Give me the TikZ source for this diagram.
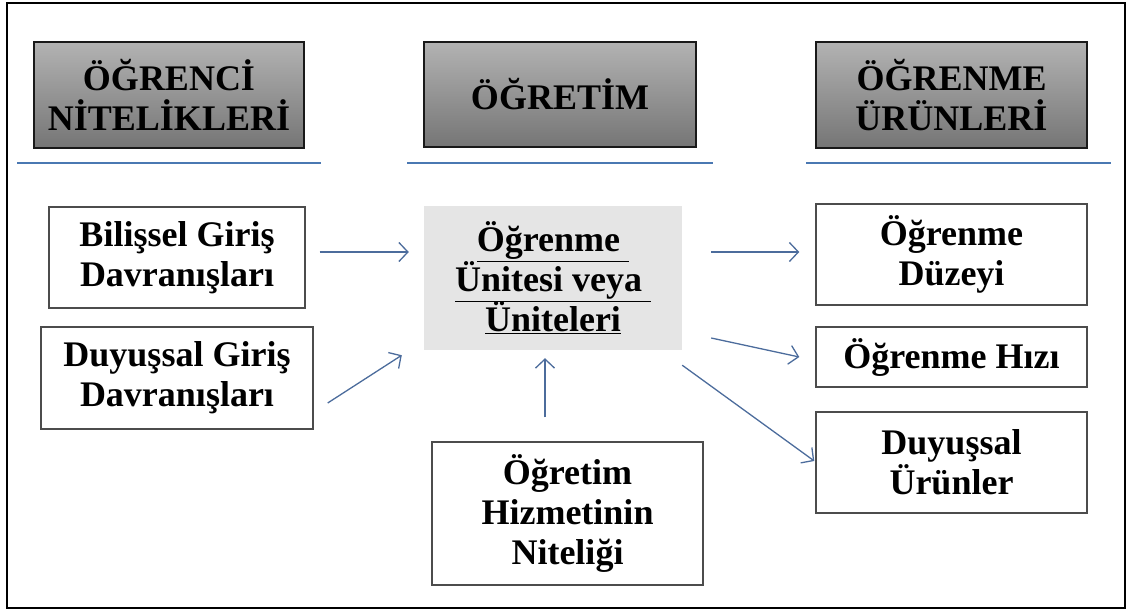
\documentclass[tikz,border=0pt]{standalone}
\usepackage{fontspec}
\setmainfont{Liberation Serif}
\usepackage{tikz}
\usetikzlibrary{arrows.meta}

\definecolor{rulebl}{HTML}{4A78B2}
\definecolor{arrbl}{HTML}{4C6C9C}

\begin{document}
\begin{tikzpicture}[
    x=1pt, y=-1pt,
    font=\bfseries\fontsize{36}{40}\selectfont,
    blk/.style={draw=black!70, line width=1.4pt, inner sep=0pt, align=center},
    head/.style={blk, draw=black!90, top color=black!30, bottom color=black!54},
    unitbox/.style={inner sep=0pt, align=center, fill=black!10},
    arr/.style={->, arrbl, line width=1.3pt, >={Straight Barb[length=9pt,width=19pt]}},
    hline/.style={rulebl, line width=1.6pt},
  ]
    \useasboundingbox (0,0) rectangle (1127,610);
    \draw[line width=2pt] (7,3) rectangle (1125,608);

    % column heads
    \node[head, minimum width=270, minimum height=106] (h1) at (169,95)   {ÖĞRENCİ\\NİTELİKLERİ};
    \node[head, minimum width=272, minimum height=105] (h2) at (560,94.5) {ÖĞRETİM};
    \node[head, minimum width=271, minimum height=106] (h3) at (951.5,95) {ÖĞRENME\\ÜRÜNLERİ};

    \draw[hline] ([shift={(-16,14)}]h1.south west) -- ([shift={(16,14)}]h1.south east);
    \draw[hline] ([shift={(-16,15)}]h2.south west) -- ([shift={(16,15)}]h2.south east);
    \draw[hline] ([shift={(-9,14)}]h3.south west)  -- ([shift={(23,14)}]h3.south east);

    % inputs
    \node[blk, minimum width=256, minimum height=101] (bil) at (177,257.5) {Bilişsel Giriş\\Davranışları};
    \node[blk, minimum width=272, minimum height=102] (duy) at (177,378)   {Duyuşsal Giriş\\Davranışları};

    % instruction
    \node[unitbox, minimum width=258, minimum height=144] (unit) at (553,278)
      {\underline{Öğrenme~}\\\underline{Ünitesi veya~}\\\underline{Üniteleri}};
    \node[blk, minimum width=271, minimum height=143] (hizmet) at (567.5,513.5)
      {Öğretim\\Hizmetinin\\Niteliği};

    % outputs
    \node[blk, minimum width=271, minimum height=101] (duz)  at (951.5,254.5) {Öğrenme\\Düzeyi};
    \node[blk, minimum width=271, minimum height=60]  (hizi) at (951.5,357)   {Öğrenme Hızı};
    \node[blk, minimum width=271, minimum height=101] (urun) at (951.5,462.5) {Duyuşsal\\Ürünler};

    \draw[arr] ([shift={(14,-5.5)}]bil.east)      -- ([shift={(-15,-26)}]unit.west);
    \draw[arr] ([shift={(14,25)}]duy.east)        -- ([shift={(-22,5)}]unit.south west);
    \draw[arr] ([shift={(-22.5,-24)}]hizmet.north) -- ([shift={(-8,8)}]unit.south);
    \draw[arr] ([shift={(29,-26)}]unit.east)      -- ([shift={(-16,-2.5)}]duz.west);
    \draw[arr] ([shift={(29,60)}]unit.east)       -- ([shift={(-16,0)}]hizi.west);
    \draw[arr] ([shift={(0,15)}]unit.south east)  -- ([shift={(-1,-1.5)}]urun.west);
  \end{tikzpicture}
\end{document}
